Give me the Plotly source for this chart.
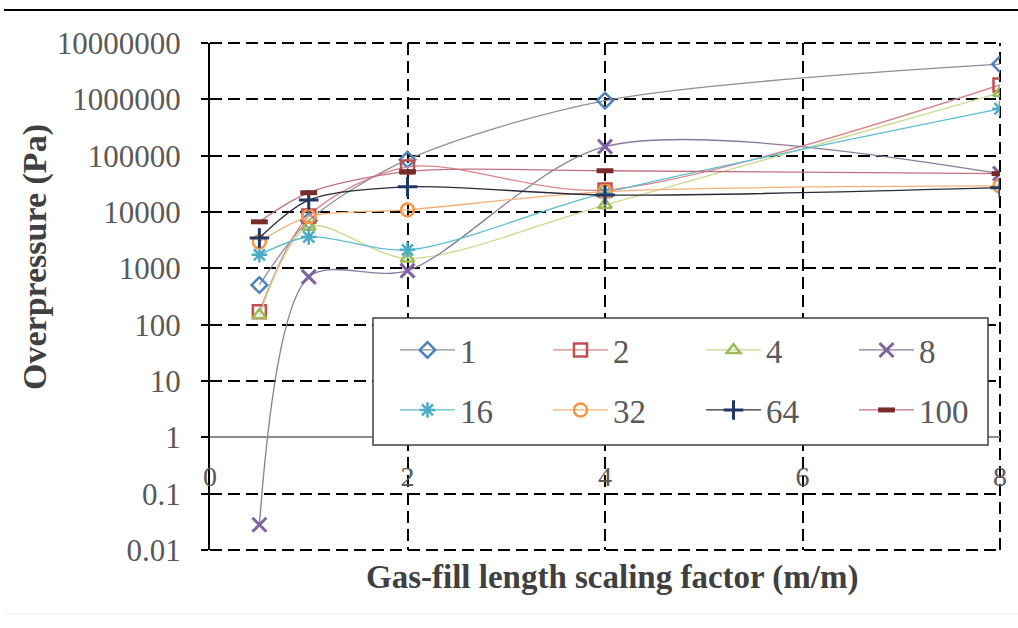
import plotly.graph_objects as go

x_vals = [0.5, 1, 2, 4, 8]
series_names = ["1", "2", "4", "8", "16", "32", "64", "100"]
s1 = [506, 7000, 85000, 950000, 4200000]
s2 = [170, 8500, 63000, 24600, 1800000]
s4 = [148, 5500, 1500, 13300, 1300000]
s8 = [0.028, 705, 910, 145000, 48000]
s16 = [1740, 3600, 2130, 21800, 680000]
s32 = [2950, 8300, 10900, 23000, 29000]
s64 = [3460, 16300, 28000, 20000, 27000]
s100 = [6700, 22000, 52000, 54000, 48000]
series_values = [s1, s2, s4, s8, s16, s32, s64, s100]

y_tickvals = [0.01, 0.1, 1, 10, 100, 1000, 10000, 100000, 1000000, 10000000]
y_ticktext = ["0.01", "0.1", "1", "10", "100", "1000", "10000", "100000", "1000000", "10000000"]
x_tickvals = [0, 2, 4, 6, 8]
x_ticktext = ["0", "2", "4", "6", "8"]

marker_colors = ["#4F81BD", "#C0504D", "#9BBB59", "#8064A2", "#4BACC6", "#F79646", "#1F3864", "#772C2A"]
line_colors = ["#8a8f99", "#d9868a", "#c9d98c", "#8a7a9e", "#5cbdd0", "#f5b07a", "#2a2a3a", "#c07080"]
symbols = ["diamond-open", "square-open", "triangle-up-open", "x-thin-open", "asterisk-open",
           "circle-open", "cross-thin-open", "line-ew-open"]
msizes = [12, 13, 12, 14, 13, 13, 14, 12]
mwidths = [2.5, 2.5, 2.5, 3, 2.5, 2.5, 3, 5]

FONT = "Liberation Serif, Times New Roman, serif"
DASH = "12px,6px"
L, R, T, B = 210, 18, 43, 78
W, H = 1018, 628
PW, PH = W - L - R, H - T - B

def px_x(p):
    return (p - L) / PW

def px_y(p):
    return (H - B - p) / PH

fig = go.Figure()
legend_ids = ["legend" if i == 0 else f"legend{i + 1}" for i in range(len(series_names))]
for i, (name, vals) in enumerate(zip(series_names, series_values)):
    fig.add_trace(go.Scatter(
        x=x_vals, y=vals, name=name, mode="lines+markers",
        line=dict(color=line_colors[i], width=1.3, shape="spline", smoothing=0.85),
        marker=dict(symbol=symbols[i], size=msizes[i], color=marker_colors[i],
                    line=dict(color=marker_colors[i], width=mwidths[i])),
        legend=legend_ids[i],
    ))

# legend slots: marker centres in pixels (4 columns x 2 rows)
col_px = [427, 580, 733, 886]
row_px = [350, 410]
legends = {}
for i, lid in enumerate(legend_ids):
    cx = col_px[i % 4]
    cy = row_px[i // 4]
    legends[lid] = dict(orientation="h", xanchor="left", x=px_x(cx - 32), yanchor="middle",
                        y=px_y(cy), bgcolor="rgba(0,0,0,0)", itemwidth=55,
                        font=dict(size=33, family=FONT, color="#595959"))

grid = dict(showgrid=True, gridcolor="black", gridwidth=2, griddash=DASH, zeroline=False)
fig.update_layout(
    width=W, height=H,
    margin=dict(l=L, r=R, t=T, b=B),
    paper_bgcolor="white", plot_bgcolor="white",
    font=dict(family=FONT, color="#595959"),
    showlegend=True,
    xaxis=dict(range=[0, 8], tickvals=x_tickvals, ticktext=x_ticktext,
               anchor="free", position=2 / 9, showline=True, linecolor="#8c8c8c", linewidth=2,
               ticks="", tickfont=dict(size=28, family=FONT, color="#595959"),
               ticklabelstandoff=14, **grid),
    yaxis=dict(type="log", range=[-2, 7], tickvals=y_tickvals, ticktext=y_ticktext,
               showline=True, linecolor="black", linewidth=2, ticks="outside", ticklen=7,
               tickwidth=2, tickcolor="black",
               tickfont=dict(size=31, family=FONT, color="#595959"),
               ticklabelstandoff=14, **grid),
    shapes=[
        dict(type="line", xref="paper", yref="paper", x0=0, x1=1, y0=1, y1=1,
             line=dict(color="black", width=2, dash=DASH), layer="below"),
        dict(type="line", xref="paper", yref="paper", x0=0, x1=1, y0=0, y1=0,
             line=dict(color="black", width=2, dash=DASH), layer="below"),
        dict(type="line", xref="paper", yref="paper", x0=1, x1=1, y0=0, y1=1,
             line=dict(color="black", width=2, dash=DASH), layer="below"),
        dict(type="rect", xref="paper", yref="paper", x0=px_x(373), x1=px_x(988),
             y0=px_y(445), y1=px_y(318),
             fillcolor="white", line=dict(color="#404040", width=1.5), layer="above"),
        dict(type="line", xref="paper", yref="paper", x0=px_x(4), x1=px_x(1018),
             y0=px_y(10), y1=px_y(10), line=dict(color="black", width=2)),
        dict(type="line", xref="paper", yref="paper", x0=px_x(4), x1=px_x(1018),
             y0=px_y(614), y1=px_y(614), line=dict(color="#eeeeee", width=1)),
    ],
    annotations=[
        dict(text="<b>Overpressure (Pa)</b>", textangle=-90, xref="paper", yref="paper",
             x=px_x(35), y=px_y(257), xanchor="center", yanchor="middle", showarrow=False,
             font=dict(size=34, family=FONT, color="#404040")),
        dict(text="<b>Gas-fill length scaling factor (m/m)</b>", xref="paper", yref="paper",
             x=px_x(612), y=px_y(577), xanchor="center", yanchor="middle", showarrow=False,
             font=dict(size=33, family=FONT, color="#404040")),
    ],
    **legends,
)
fig.write_html("out.html")
